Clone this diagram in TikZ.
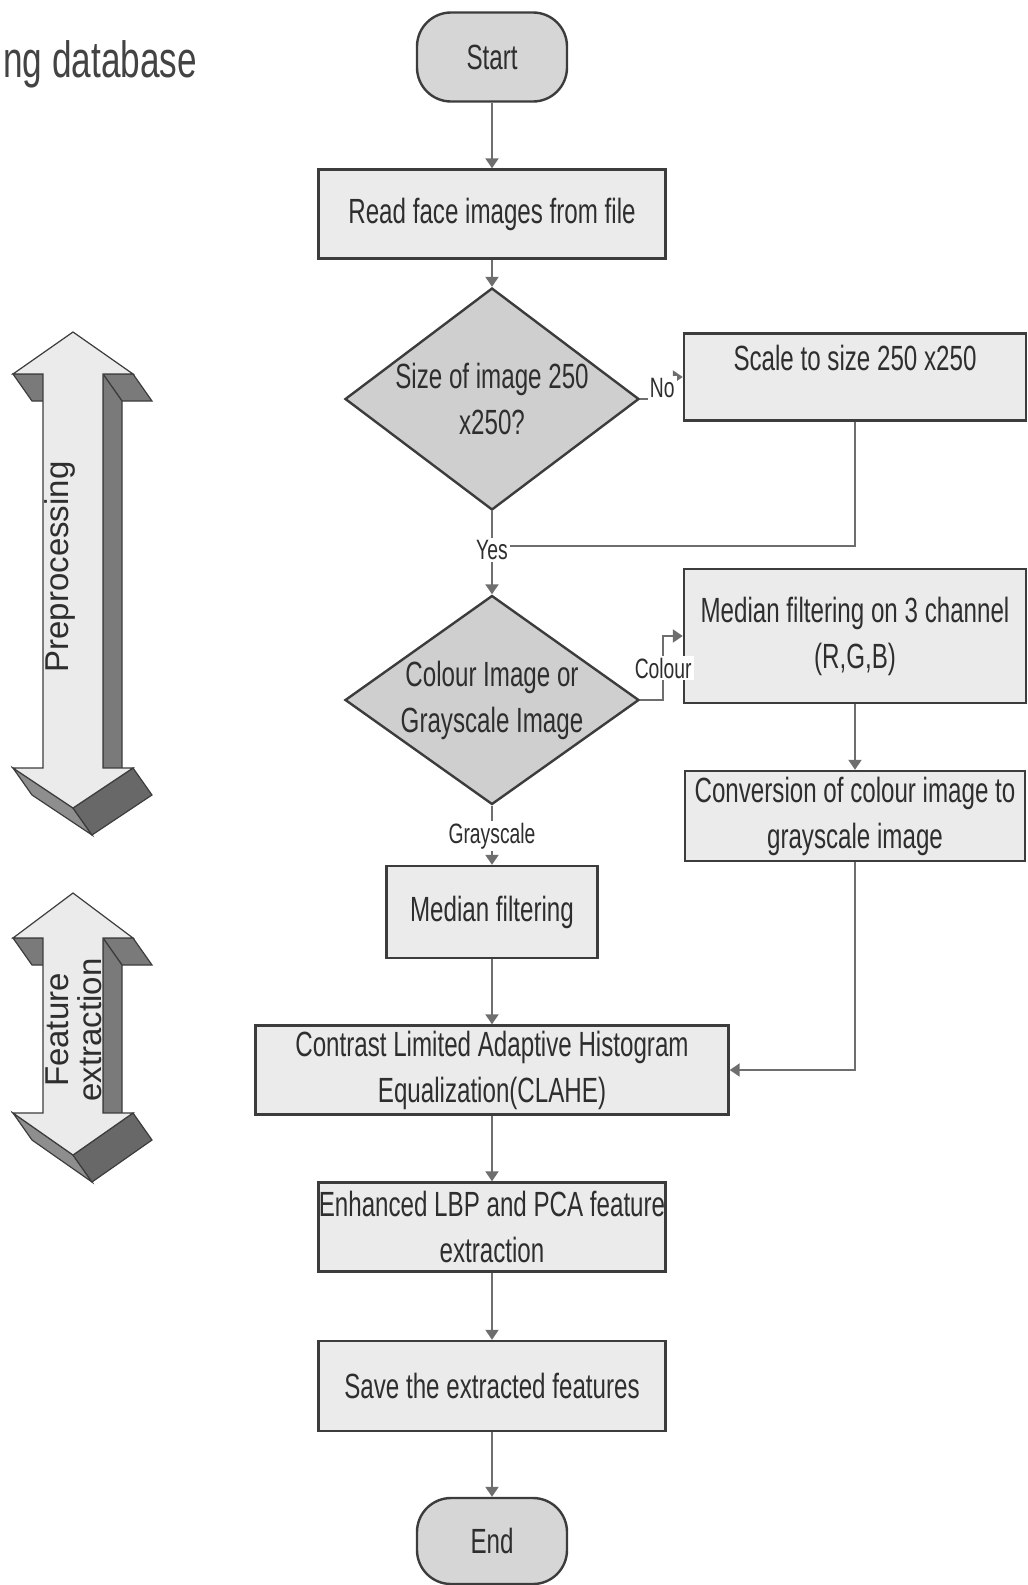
\documentclass[tikz,border=0pt]{standalone}
\usepackage{fontspec}
\newfontfamily\flowfont{Liberation Sans}[FakeStretch=0.69]
\newfontfamily\arrowfont{Liberation Sans}
\usetikzlibrary{shapes.geometric,arrows.meta}
\definecolor{boxfill}{HTML}{EBEBEB}
\definecolor{decfill}{HTML}{CFCFCF}
\definecolor{termfill}{HTML}{D6D6D6}
\definecolor{edgegray}{HTML}{3C3C3C}
\definecolor{linegray}{HTML}{6E6E6E}
\definecolor{txtgray}{HTML}{2E2E2E}
\definecolor{sidedark}{HTML}{7A7A7A}
\definecolor{sidemid}{HTML}{8E8E8E}
\tikzset{
  procbox/.style={draw=edgegray, line width=1.2pt, fill=boxfill, align=center, inner sep=0pt, text=txtgray, font=\flowfont\fontsize{17.5}{23}\selectfont},
  decbox/.style={procbox, diamond, aspect=1.4, fill=decfill},
  termbox/.style={procbox, rounded corners=17pt, fill=termfill},
  arr/.style={draw=linegray, line width=1pt, -{Triangle[length=5pt,width=6.5pt]}},
  joinline/.style={draw=linegray, line width=1pt},
  lbl/.style={fill=white, inner sep=1pt, text=txtgray, font=\flowfont\fontsize{14}{16}\selectfont},
  arrowtext/.style={text=txtgray, align=center, font=\arrowfont\fontsize{16.5}{16.5}\selectfont},
}
% #1 top tip, #2 upper wings, #3 lower wings, #4 bottom tip
\newcommand{\stagearrow}[4]{%
\filldraw[fill=sidedark, draw=edgegray, line width=0.6pt] (43,#2) -- (13,#2) --++ (19,27) --++ (30,0) -- cycle;
\filldraw[fill=sidedark, draw=edgegray, line width=0.6pt] (133,#2) -- (103,#2) --++ (19,27) --++ (30,0) -- cycle;
\filldraw[fill=sidedark, draw=edgegray, line width=0.6pt] (103,#2) -- (103,#3) --++ (19,27) -- (122,#2+27) -- cycle;
\filldraw[fill=sidemid, draw=edgegray, line width=0.6pt] (73,#4) -- (13,#3) --++ (19,27) -- (92,#4+27) -- cycle;
\filldraw[fill=sidedark!85!black, draw=edgegray, line width=0.6pt] (133,#3) -- (73,#4) --++ (19,27) -- (152,#3+27) -- cycle;
\filldraw[fill=boxfill, draw=edgegray, line width=0.6pt] (73,#1) -- (133,#2) -- (103,#2) -- (103,#3) -- (133,#3) -- (73,#4) -- (13,#3) -- (43,#3) -- (43,#2) -- (13,#2) -- cycle;
}
\begin{document}
\begin{tikzpicture}[x=0.5pt,y=-0.5pt]
\pgfmathsetmacro{\cx}{492}
\pgfmathsetmacro{\rx}{855}
\useasboundingbox (0,0) rectangle (1028,1585);
\node[anchor=base west, inner sep=0pt, text=txtgray!90, font=\flowfont\fontsize{25.5}{30}\selectfont] (dbtitle) at (3,77) {ng database};
%
\stagearrow{332}{374}{768}{808}
\node[arrowtext, rotate=90] (pretext) at (60,567) {Preprocessing};
\stagearrow{893}{938}{1113}{1155}
\node[arrowtext, rotate=90] (feattext) at (74,1030) {Feature\\extraction};
%
\node[termbox, minimum width=75pt, minimum height=44.5pt] (start) at (\cx,57) {Start};
\node[procbox, minimum width=173.5pt, minimum height=44.5pt] (read) at (\cx,214) {Read face images from file};
\node[decbox, minimum width=147pt, minimum height=111pt] (sizeq) at (\cx,399) {Size of image 250\\x250?};
\node[procbox, minimum width=171pt, minimum height=43.5pt] (scale) at (\rx,377) {Scale to size 250 x250\\[-4pt] \mbox{}};
\node[decbox, minimum width=147pt, minimum height=98pt] (colourq) at (\cx,700) {Colour Image or\\Grayscale Image};
\node[procbox, minimum width=171pt, minimum height=67pt] (rgbmed) at (\rx,636) {Median filtering on 3 channel\\(R,G,B)};
\node[procbox, minimum width=170pt, minimum height=45pt] (convert) at (\rx,816) {Conversion of colour image to\\grayscale image};
\node[procbox, minimum width=105.5pt, minimum height=46pt] (median) at (\cx,912) {Median filtering};
\node[procbox, minimum width=236.5pt, minimum height=44.5pt] (clahe) at (\cx,1070) {Contrast Limited Adaptive Histogram\\Equalization(CLAHE)};
\node[procbox, minimum width=173.5pt, minimum height=44.5pt] (lbp) at (\cx,1227) {Enhanced LBP and PCA feature\\extraction};
\node[procbox, minimum width=173.5pt, minimum height=45pt] (save) at (\cx,1386) {Save the extracted features};
\node[termbox, minimum width=75pt, minimum height=43pt] (end) at (\cx,1541) {End};
%
\coordinate (merge) at (\cx,546);
\draw[joinline] (scale.south) |- (merge);
%
\draw[arr] (start) -- (read);
\draw[arr] (read) -- (sizeq);
\draw[arr] (sizeq.east) --++ (22,0) |- (scale.west) node[lbl,pos=0.25]{No};
\draw[arr] (sizeq.south) -- (colourq.north) node[lbl,pos=0.47]{Yes};
\draw[arr] (colourq.east) --++ (23,0) |- (rgbmed.west) node[lbl,pos=0.25]{Colour};
\draw[arr] (rgbmed) -- (convert);
\draw[arr] (colourq.south) -- (median.north) node[lbl,pos=0.52]{Grayscale};
\draw[arr] (median) -- (clahe);
\draw[arr] (convert.south) |- (clahe.east);
\draw[arr] (clahe) -- (lbp);
\draw[arr] (lbp) -- (save);
\draw[arr] (save) -- (end);
\end{tikzpicture}
\end{document}
